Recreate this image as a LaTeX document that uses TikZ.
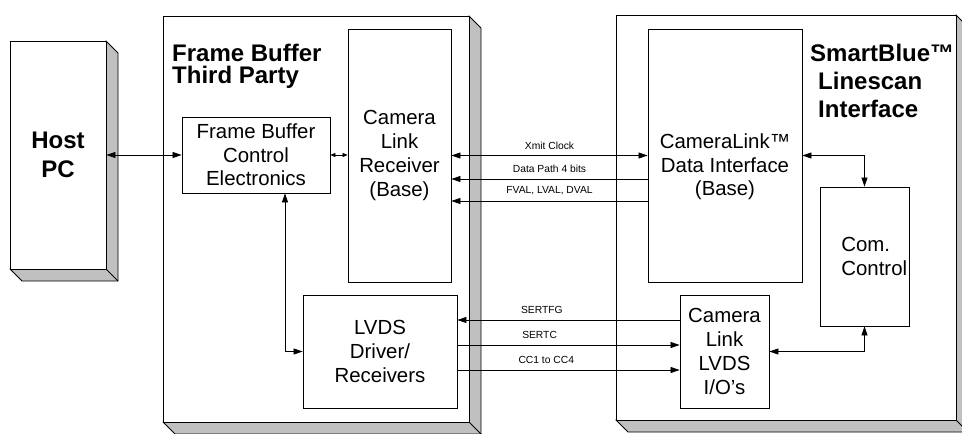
\documentclass[tikz,border=0pt]{standalone}
\usepackage{fontspec}
\setmainfont{Liberation Sans}
\usetikzlibrary{arrows.meta}

\definecolor{shade}{RGB}{192,192,192}

\tikzset{
  box/.style={draw, line width=.8pt, fill=white, inner sep=0pt, align=center,
    font=\fontsize{20.4}{23.7}\selectfont},
  side/.style={draw, fill=shade, line width=.8pt},
  title/.style={inner sep=0pt, align=left, font=\fontsize{24}{22}\selectfont\bfseries},
  sig/.style={inner sep=1pt, font=\fontsize{10.3}{12}\selectfont},
  wire/.style={line width=.7pt},
}

\begin{document}
\begin{tikzpicture}[x=1pt, y=-1pt, >={Triangle[length=9pt,width=6pt]}]

    \useasboundingbox (0,0) rectangle (962,434);

    % host pc, raised block
    \filldraw[side] (106,41) -- (118,53) -- (118,281) -- (22,281) -- (10,269) -- cycle;
    \draw[line width=.8pt] (106,269) -- (118,281);
    \node[box, minimum width=96pt, minimum height=228pt,
    	font=\fontsize{24}{29}\selectfont\bfseries] (host) at (58,155) {Host\\PC};

    % frame buffer board
    \filldraw[side] (469,16) -- (481,28) -- (481,434) -- (175,434) -- (163,422) -- cycle;
    \draw[line width=.8pt] (469,422) -- (481,434);
    \node[box, minimum width=306pt, minimum height=406pt] (fb) at (316,219) {};
    \node[title, anchor=north west] (fbtitle) at (172,44.2) {Frame Buffer\\Third Party};

    % smartblue board
    \filldraw[side] (956,15) -- (968,27) -- (968,432) -- (628,432) -- (616,420) -- cycle;
    \draw[line width=.8pt] (956,420) -- (968,432);
    \node[box, minimum width=340pt, minimum height=405pt] (sb) at (786,217.5) {};
    \node[title, anchor=north west, font=\fontsize{24}{28}\selectfont\bfseries] (sbtitle)
    	at (810,43.5) {SmartBlue™\\\hspace*{8pt}Linescan\\\hspace*{8pt}Interface};

    % blocks inside the frame buffer
    \node[box, minimum width=148pt, minimum height=76pt] (fbc) at (256,155)
    	{Frame Buffer\\Control\\Electronics};
    \node[box, minimum width=103pt, minimum height=253pt] (clr) at (399.5,155.5)
    	{Camera\\Link\\Receiver\\(Base)};
    \node[box, minimum width=154pt, minimum height=113pt] (lvds) at (380,351.5)
    	{LVDS\\Driver/\\Receivers};

    % blocks inside the camera
    \node[box, minimum width=154pt, minimum height=253pt] (cldi) at (725,155.5) {};
    \node[box, draw=none, fill=none] (cldi-text) at (725,167)
    	{CameraLink™\\Data Interface\\(Base)};
    \node[box, minimum width=89pt, minimum height=139pt] (com) at (864.5,256.5) {};
    \node[box, draw=none, fill=none, align=left, anchor=west] (com-text) at (841,256.5)
    	{Com.\\Control};
    \node[box, minimum width=89pt, minimum height=113pt] (io) at (724.5,351.5)
    	{Camera\\Link\\LVDS\\I/O’s};

    % links on the frame buffer side
    \draw[wire, <->] (host.east) -- (fbc.west);
    \draw[wire, <->, >={Triangle[length=5pt,width=4pt]}]
    	(fbc.east) -- (fbc.east -| clr.west);
    \draw[wire, <->] ([xshift=29pt]fbc.south) |- (lvds.west);

    % camera link lines
    \draw[wire, <->] (clr.east) -- (cldi.west)
    	node[sig, midway, above=5pt] (xmit) {Xmit Clock};
    \draw[wire, <-] ([yshift=-23.5pt]clr.east) -- ([yshift=-23.5pt]cldi.west)
    	node[sig, midway, above=5pt] (data) {Data Path 4 bits};
    \draw[wire, <-] ([yshift=-45.5pt]clr.east) -- ([yshift=-45.5pt]cldi.west)
    	node[sig, midway, above=5pt] (fval) {FVAL, LVAL, DVAL};

    \draw[wire, <-] ([yshift=31.5pt]lvds.east) -- ([yshift=31.5pt]io.west)
    	node[sig, pos=.38, above=5pt] (sertfg) {SERTFG};
    \draw[wire, ->] ([yshift=6.5pt]lvds.east) -- ([yshift=6.5pt]io.west)
    	node[sig, pos=.37, above=5pt] (sertc) {SERTC};
    \draw[wire, ->] ([yshift=-18.5pt]lvds.east) -- ([yshift=-18.5pt]io.west)
    	node[sig, pos=.40, above=5pt] (cc) {CC1 to CC4};

    % links inside the camera
    \draw[wire, <->] (cldi.east) -| (com.north);
    \draw[wire, <->] (io.east) -| (com.south);

\end{tikzpicture}
\end{document}
